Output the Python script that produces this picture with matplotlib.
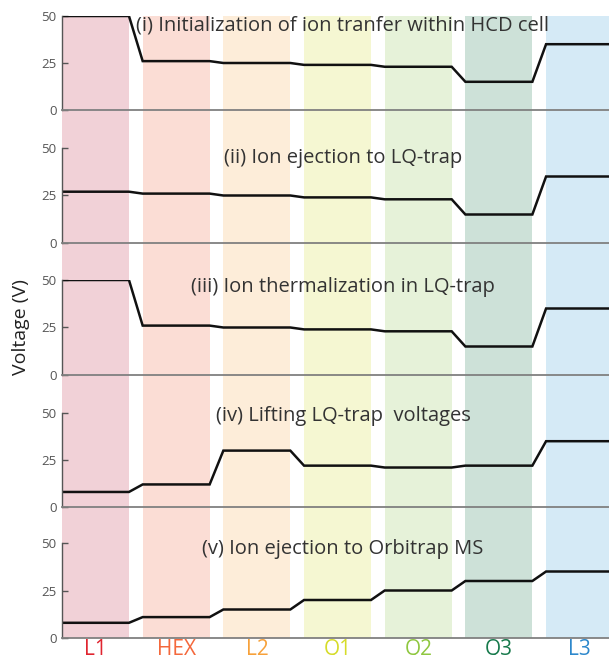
import numpy as np
import matplotlib.pyplot as plt

# ion optics elements along the transfer path
elements = ['L1', 'HEX', 'L2', 'Q1', 'Q2', 'Q3', 'L3']
band_colors = ['#f1d1d7', '#fbddd5', '#fdedd9', '#f5f7d2', '#e6f2d9', '#cde1d8', '#d5eaf6']
label_colors = ['#e02530', '#f4683c', '#f7a13a', '#d6dc2a', '#8fc740', '#187a4c', '#2d88cc']

titles = [
    '(i) Initialization of ion tranfer within HCD cell',
    '(ii) Ion ejection to LQ-trap',
    '(iii) Ion thermalization in LQ-trap',
    '(iv) Lifting LQ-trap  voltages',
    '(v) Ion ejection to Orbitrap MS',
]

# voltage on each element (V) for every step
v_init = [50, 26, 25, 24, 23, 15, 35]
v_eject_lq = [27, 26, 25, 24, 23, 15, 35]
v_thermal = [50, 26, 25, 24, 23, 15, 35]
v_lift = [8, 12, 30, 22, 21, 22, 35]
v_eject_orbi = [8, 11, 15, 20, 25, 30, 35]
steps = [v_init, v_eject_lq, v_thermal, v_lift, v_eject_orbi]

plt.rcParams['font.family'] = ['Open Sans', 'DejaVu Sans']

W, H = 609, 655
fig = plt.figure(figsize=(W / 100, H / 100), dpi=100)

band_w = 0.83
x_max = 6.78
left = 62 / W
width = 1 - left
px_per_unit = 80.7

# panel extents in pixels (top of 50 V, 0 V line) and title centres
tops = [16, 148, 280, 413, 543]
bottoms = [110, 243, 375, 507, 638]
title_y = [26, 158, 287, 416, 549]

# coloured element bands behind all panels
bg = fig.add_axes([left, 1 - bottoms[-1] / H, width, (bottoms[-1] - tops[0]) / H])
bg.set_xlim(0, x_max)
bg.set_ylim(0, 1)
for i, c in enumerate(band_colors):
    bg.axvspan(i, i + band_w, color=c, lw=0)
bg.axis('off')

for k, (volts, title) in enumerate(zip(steps, titles)):
    ax = fig.add_axes([left, 1 - bottoms[k] / H, width, (bottoms[k] - tops[k]) / H])
    ax.patch.set_visible(False)
    xs, ys = [], []
    for i, v in enumerate(volts):
        xs += [i, i + band_w]
        ys += [v, v]
    ax.plot(xs, ys, color='#111111', lw=1.8, solid_joinstyle='miter')
    ax.set_xlim(0, x_max)
    ax.set_ylim(0, 50)
    ax.set_yticks([0, 25, 50])
    ax.set_xticks([])
    for s in ['top', 'right']:
        ax.spines[s].set_visible(False)
    ax.spines['left'].set_color('#555555')
    ax.spines['left'].set_linewidth(1.0)
    ax.spines['bottom'].set_color('#808080')
    ax.spines['bottom'].set_linewidth(1.3)
    ax.tick_params(axis='y', direction='in', length=4, width=1, color='#555555',
                   labelsize=9.5, labelcolor='#555555', pad=4)
    fig.text(343 / W, 1 - title_y[k] / H, title, ha='center', va='center',
             fontsize=14.5, color='#333333')
    if k == 2:
        ax.set_ylabel('Voltage (V)', fontsize=14, color='#222222', labelpad=8)

# element names under the last panel
for i, (name, c) in enumerate(zip(elements, label_colors)):
    fig.text(left + (i + band_w / 2) * px_per_unit / W, 1 - 639 / H, name,
             ha='center', va='top', fontsize=15, color=c)

fig.savefig('out.png', dpi=100)
